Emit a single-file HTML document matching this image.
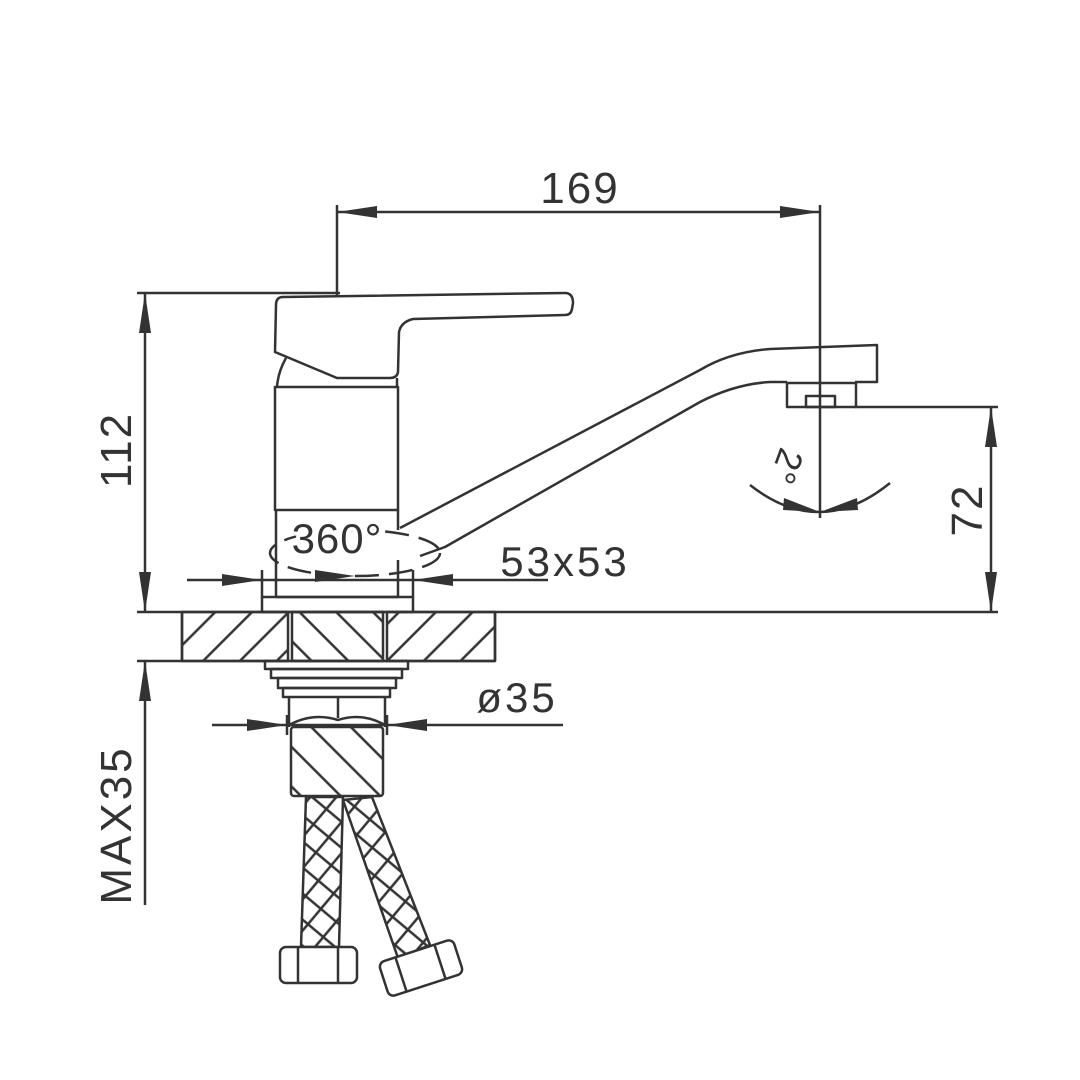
<!DOCTYPE html>
<html><head><style>html,body{margin:0;padding:0;background:#fff}svg{display:block}text{font-family:"Liberation Sans",sans-serif;fill:#333}</style></head>
<body>
<svg width="1080" height="1080" viewBox="0 0 1080 1080" xmlns="http://www.w3.org/2000/svg">
<defs>
<pattern id="hf" patternUnits="userSpaceOnUse" width="26" height="26" patternTransform="rotate(45)"><line x1="13" y1="0" x2="13" y2="26" stroke="#333" stroke-width="2.5"/></pattern>
<pattern id="hb" patternUnits="userSpaceOnUse" width="26" height="26" patternTransform="rotate(-45)"><line x1="13" y1="0" x2="13" y2="26" stroke="#333" stroke-width="2.5"/></pattern>
<pattern id="hx" patternUnits="userSpaceOnUse" width="20" height="20" patternTransform="rotate(40)"><line x1="10" y1="0" x2="10" y2="20" stroke="#333" stroke-width="2.5"/><line x1="0" y1="10" x2="20" y2="10" stroke="#333" stroke-width="2.5"/></pattern>
<pattern id="hb2" patternUnits="userSpaceOnUse" width="28" height="28" patternTransform="rotate(-45)"><line x1="14" y1="0" x2="14" y2="28" stroke="#333" stroke-width="2.5"/></pattern>
</defs>
<g fill="none" stroke="#333" stroke-width="2.5" stroke-linejoin="round">
<line x1="337" y1="205" x2="337" y2="297"/>
<line x1="820" y1="205" x2="820" y2="518"/>
<line x1="337" y1="212" x2="820" y2="212"/>
<line x1="137" y1="293" x2="340" y2="293"/>
<line x1="145" y1="293" x2="145" y2="612"/>
<path d="M283 297 L565 293 Q573 293 573 303 L572 309 Q571 315 565 315 L413 319 Q401 322 399 332 L398 372 Q397 378 390 378 L337 378 L275 352 L276 305 Q276 297 283 297 Z"/>
<path d="M286 358 Q278 372 277 387"/>
<line x1="397" y1="378" x2="397" y2="387"/>
<rect x="275" y="387" width="123" height="123"/>
<path d="M276 510 L276 597 M398 510 L398 530"/>
<line x1="398" y1="560" x2="398" y2="597"/>
<line x1="276" y1="597" x2="398" y2="597"/>
<rect x="262" y="597" width="151" height="15"/>
<path d="M400 528 L700 370 Q730 352 770 349 L877 345 L877 382 L855 382"/>
<path d="M420 556 L445 547 L700 402 Q735 384 770 382 L787 382"/>
<rect x="787" y="383" width="69" height="24"/>
<rect x="806" y="396" width="29" height="11"/>
<line x1="855" y1="407" x2="998" y2="407"/>
<line x1="991" y1="407" x2="991" y2="612"/>
<path d="M750 485 Q820 540 890 483"/>
<ellipse cx="355" cy="553" rx="85" ry="23" stroke-dasharray="24 10"/>
<line x1="187" y1="580" x2="548" y2="580"/>
<line x1="262" y1="570" x2="262" y2="597"/>
<line x1="413" y1="570" x2="413" y2="597"/>
<line x1="137" y1="612" x2="998" y2="612"/>
<line x1="137" y1="661" x2="495" y2="661"/>
<rect x="182" y="612" width="106" height="49" fill="url(#hf)"/>
<rect x="292" y="612" width="91" height="49" fill="url(#hb)"/>
<rect x="387" y="612" width="108" height="49" fill="url(#hf)"/>
<line x1="182" y1="612" x2="182" y2="661"/><line x1="495" y1="612" x2="495" y2="661"/>
<rect x="265" y="661" width="143" height="8"/>
<rect x="271" y="669" width="131" height="9"/>
<rect x="278" y="678" width="118" height="10"/>
<rect x="283" y="688" width="107" height="9"/>
<path d="M289 697 L289 727 M385 697 L385 727 M338 697 L338 718"/>
<path d="M289 725 Q313 712 338 720 Q362 712 385 725"/>
<rect x="291" y="727" width="92" height="69" rx="3" fill="url(#hb2)"/>
<line x1="212" y1="725" x2="563" y2="725"/>
<line x1="287" y1="715" x2="287" y2="735"/>
<line x1="387" y1="715" x2="387" y2="735"/>
<line x1="145" y1="661" x2="145" y2="905"/>
<polygon points="306,797 343,797 339,947 301,947" fill="url(#hx)"/>
<polygon points="343,800 372,797 430,945 398,958" fill="url(#hx)"/>
<rect x="280" y="947" width="77" height="36" rx="6" fill="#fff"/>
<line x1="298" y1="947" x2="298" y2="983"/><line x1="338" y1="947" x2="338" y2="983"/>
<g transform="rotate(-18 421 968)"><rect x="382" y="950" width="78" height="36" rx="6" fill="#fff"/><line x1="400" y1="950" x2="400" y2="986"/><line x1="441" y1="950" x2="441" y2="986"/></g>
</g>
<g fill="#333">
<polygon points="337,212 377,206 377,218"/>
<polygon points="820,212 780,206 780,218"/>
<polygon points="145,293 139,333 151,333"/>
<polygon points="145,612 139,572 151,572"/>
<polygon points="991,407 985,447 997,447"/>
<polygon points="991,612 985,572 997,572"/>
<polygon points="262,580 222,574 222,586"/>
<polygon points="413,580 453,574 453,586"/>
<polygon points="355,576 315,570 315,582"/>
<polygon points="287,725 247,719 247,731"/>
<polygon points="387,725 427,719 427,731"/>
<polygon points="145,661 139,701 151,701"/>
<polygon points="820,512 784,498 783,510"/>
<polygon points="820,512 857,498 858,510"/>
</g>
<text x="580" y="203" font-size="44" letter-spacing="2" text-anchor="middle">169</text>
<text transform="translate(131,450) rotate(-90)" font-size="44" letter-spacing="2" text-anchor="middle">112</text>
<text transform="translate(982,510) rotate(-90)" font-size="44" letter-spacing="2" text-anchor="middle">72</text>
<text transform="translate(131,825) rotate(-90)" font-size="44" letter-spacing="3" text-anchor="middle">MAX35</text>
<text x="337" y="553" font-size="42" letter-spacing="1" text-anchor="middle" style="paint-order:stroke;stroke:#fff;stroke-width:8px">360°</text>
<text x="565" y="576" font-size="42" letter-spacing="3" text-anchor="middle">53x53</text>
<text x="517" y="712" font-size="42" letter-spacing="3" text-anchor="middle">ø35</text>
<text transform="translate(775,462) rotate(110)" font-size="36" text-anchor="middle">2°</text>
</svg>
</body></html>
